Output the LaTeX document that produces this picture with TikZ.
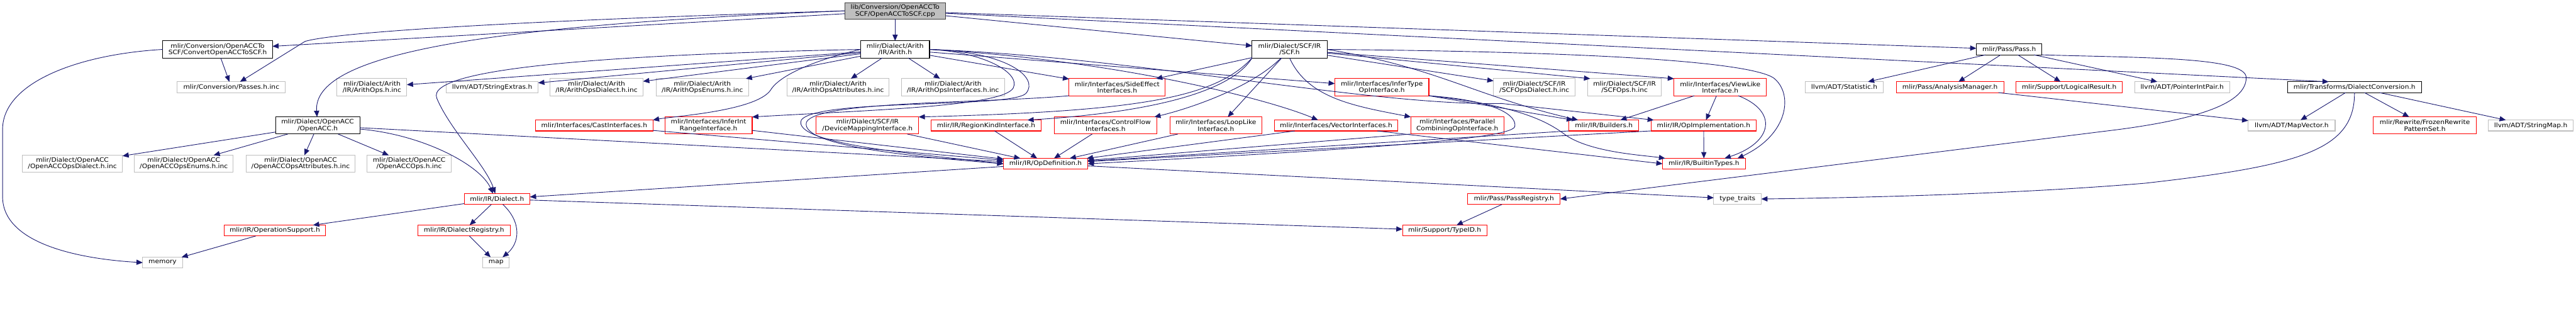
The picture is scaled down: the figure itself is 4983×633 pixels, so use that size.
\documentclass[tikz,border=0pt]{standalone}
\usepackage{fontspec}
\setmainfont{DejaVu Sans}[FakeStretch=1.09]
\usetikzlibrary{arrows.meta}
\definecolor{edgeblue}{HTML}{191970}
\definecolor{redline}{HTML}{FF0000}
\definecolor{grayline}{HTML}{BFBFBF}
\definecolor{rootfill}{HTML}{BFBFBF}
\definecolor{darkline}{HTML}{404040}
\newcommand\mknode[7]{\node[#1, minimum width={#5-#3}, minimum height={#6-#4}] (#2) at ({(#3+#5)/2},{(#4+#6)/2}) {#7};}
\begin{document}
\begin{tikzpicture}[x=1pt,y=-1pt,
  box/.style={draw, line width=1.3pt, inner sep=0pt, outer sep=0pt, align=center, font=\fontsize{11.9}{12.3}\selectfont, text=black},
  redbox/.style={box, draw=redline},
  graybox/.style={box, draw=grayline},
  blackbox/.style={box, draw=black},
  rootbox/.style={box, draw=darkline, fill=rootfill},
  dep/.style={draw=edgeblue, line width=1.1pt, -{Triangle[length=12pt,width=10pt]}}]
\useasboundingbox (0,0) rectangle (4983,633);
% row 1-2
\mknode{rootbox}{root}{1634}{5}{1829}{37}{lib/Conversion/OpenACCTo\\SCF/OpenACCToSCF.cpp}
\mknode{blackbox}{conv}{315}{79}{527}{112}{mlir/Conversion/OpenACCTo\\SCF/ConvertOpenACCToSCF.h}
\mknode{blackbox}{arith}{1665}{79}{1798}{112}{mlir/Dialect/Arith\\/IR/Arith.h}
\mknode{blackbox}{scf}{2422}{79}{2567}{112}{mlir/Dialect/SCF/IR\\/SCF.h}
\mknode{blackbox}{pass}{3823}{85}{3950}{106}{mlir/Pass/Pass.h}
% row 3
\mknode{graybox}{passesinc}{343}{158}{552}{179}{mlir/Conversion/Passes.h.inc}
\mknode{graybox}{arithopsinc}{652}{152}{787}{185}{mlir/Dialect/Arith\\/IR/ArithOps.h.inc}
\mknode{graybox}{strext}{863}{158}{1041}{179}{llvm/ADT/StringExtras.h}
\mknode{graybox}{arithdial}{1064}{152}{1244}{185}{mlir/Dialect/Arith\\/IR/ArithOpsDialect.h.inc}
\mknode{graybox}{arithenums}{1269}{152}{1448}{185}{mlir/Dialect/Arith\\/IR/ArithOpsEnums.h.inc}
\mknode{graybox}{arithattrs}{1522}{152}{1720}{185}{mlir/Dialect/Arith\\/IR/ArithOpsAttributes.h.inc}
\mknode{graybox}{arithifaces}{1744}{152}{1943}{185}{mlir/Dialect/Arith\\/IR/ArithOpsInterfaces.h.inc}
\mknode{redbox}{sideeff}{2068}{152}{2254}{185}{mlir/Interfaces/SideEffect\\Interfaces.h}
\mknode{redbox}{infertype}{2582}{152}{2764}{185}{mlir/Interfaces/InferType\\OpInterface.h}
\mknode{graybox}{scfdial}{2889}{152}{3047}{185}{mlir/Dialect/SCF/IR\\/SCFOpsDialect.h.inc}
\mknode{graybox}{scfops}{3071}{152}{3214}{185}{mlir/Dialect/SCF/IR\\/SCFOps.h.inc}
\mknode{redbox}{viewlike}{3238}{152}{3417}{185}{mlir/Interfaces/ViewLike\\Interface.h}
\mknode{graybox}{statistic}{3492}{158}{3643}{179}{llvm/ADT/Statistic.h}
\mknode{redbox}{analysis}{3668}{158}{3876}{179}{mlir/Pass/AnalysisManager.h}
\mknode{redbox}{logical}{3900}{158}{4105}{179}{mlir/Support/LogicalResult.h}
\mknode{graybox}{ptrint}{4129}{158}{4313}{179}{llvm/ADT/PointerIntPair.h}
\mknode{blackbox}{dconv}{4425}{158}{4684}{179}{mlir/Transforms/DialectConversion.h}
% row 4
\mknode{blackbox}{openacc}{533}{226}{696}{259}{mlir/Dialect/OpenACC\\/OpenACC.h}
\mknode{redbox}{cast}{1036}{232}{1263}{253}{mlir/Interfaces/CastInterfaces.h}
\mknode{redbox}{inferint}{1286}{226}{1455}{259}{mlir/Interfaces/InferInt\\RangeInterface.h}
\mknode{redbox}{devmap}{1579}{226}{1777}{259}{mlir/Dialect/SCF/IR\\/DeviceMappingInterface.h}
\mknode{redbox}{regkind}{1801}{232}{2014}{253}{mlir/IR/RegionKindInterface.h}
\mknode{redbox}{ctrlflow}{2039}{226}{2238}{259}{mlir/Interfaces/ControlFlow\\Interfaces.h}
\mknode{redbox}{looplike}{2263}{226}{2441}{259}{mlir/Interfaces/LoopLike\\Interface.h}
\mknode{redbox}{vector}{2465}{232}{2704}{253}{mlir/Interfaces/VectorInterfaces.h}
\mknode{redbox}{parallel}{2729}{226}{2909}{259}{mlir/Interfaces/Parallel\\CombiningOpInterface.h}
\mknode{redbox}{builders}{3035}{232}{3170}{253}{mlir/IR/Builders.h}
\mknode{redbox}{opimpl}{3194}{232}{3397}{253}{mlir/IR/OpImplementation.h}
\mknode{graybox}{mapvec}{4349}{232}{4517}{253}{llvm/ADT/MapVector.h}
\mknode{redbox}{frozen}{4591}{226}{4790}{259}{mlir/Rewrite/FrozenRewrite\\PatternSet.h}
\mknode{graybox}{strmap}{4813}{232}{4978}{253}{llvm/ADT/StringMap.h}
% row 5
\mknode{graybox}{accdial}{43}{300}{237}{333}{mlir/Dialect/OpenACC\\/OpenACCOpsDialect.h.inc}
\mknode{graybox}{accenums}{260}{300}{451}{333}{mlir/Dialect/OpenACC\\/OpenACCOpsEnums.h.inc}
\mknode{graybox}{accattrs}{476}{300}{687}{333}{mlir/Dialect/OpenACC\\/OpenACCOpsAttributes.h.inc}
\mknode{graybox}{accops}{710}{300}{873}{333}{mlir/Dialect/OpenACC\\/OpenACCOps.h.inc}
\mknode{redbox}{opdef}{1941}{306}{2104}{327}{mlir/IR/OpDefinition.h}
\mknode{redbox}{builtin}{3216}{306}{3376}{327}{mlir/IR/BuiltinTypes.h}
% row 6
\mknode{redbox}{dialect}{898}{374}{1025}{395}{mlir/IR/Dialect.h}
\mknode{redbox}{passreg}{2839}{374}{3018}{395}{mlir/Pass/PassRegistry.h}
\mknode{graybox}{typetraits}{3315}{374}{3407}{395}{type\_traits}
% row 7
\mknode{redbox}{opsupport}{434}{435}{629}{456}{mlir/IR/OperationSupport.h}
\mknode{redbox}{dialreg}{808}{435}{987}{456}{mlir/IR/DialectRegistry.h}
\mknode{redbox}{typeid}{2713}{435}{2876}{456}{mlir/Support/TypeID.h}
% row 8
\mknode{graybox}{memory}{276}{497}{353}{518}{memory}
\mknode{graybox}{map}{934}{497}{985}{518}{map}

% ---------- edges ----------
% root
\draw[dep] (root) -- (conv);
\draw[dep] (root.west) .. controls (1000,40) and (650,62) .. (590,80) -- (passesinc);
\draw[dep] (root.west) .. controls (900,50) and (605,110) .. (openacc);
\draw[dep] (root) -- (arith);
\draw[dep] (root) -- (scf);
\draw[dep] (root) -- (pass);
\draw[dep] (root) -- ([xshift=-50pt]dconv.north);
% conv
\draw[dep] (conv) -- (passesinc);
\draw[dep] (conv.west) .. controls (150,105) and (5,160) .. (5,250) -- (5,380) .. controls (5,470) and (150,500) .. (memory.west);
% arith
\draw[dep] (arith) -- (arithopsinc);
\draw[dep] (arith) -- (strext);
\draw[dep] (arith) -- (arithdial);
\draw[dep] (arith) -- (arithenums);
\draw[dep] (arith) -- (arithattrs);
\draw[dep] (arith) -- (arithifaces);
\draw[dep] (arith.west) .. controls (1200,105) and (820,130) .. (845,190) .. controls (870,250) and (940,320) .. (dialect);
\draw[dep] (arith.west) .. controls (1600,110) and (1510,140) .. (1490,175) .. controls (1460,215) and (1300,225) .. (cast.north east);
\draw[dep] (arith.east) .. controls (1900,100) and (1975,140) .. (1960,170) .. controls (1940,205) and (1700,212) .. (inferint.north east);
\draw[dep] (arith.east) .. controls (1950,100) and (2010,150) .. (1985,180) .. controls (1960,210) and (1580,190) .. (1550,232) .. controls (1530,280) and (1800,300) .. (opdef.west);
\draw[dep] (arith) -- (sideeff);
\draw[dep] (arith) -- (infertype);
\draw[dep] (arith.east) .. controls (2150,115) and (2450,190) .. ([xshift=-35pt]vector.north);
\draw[dep] (arith.east) .. controls (2200,110) and (2650,205) .. (2905,200) -- (opimpl);
% scf
\draw[dep] (scf) -- (sideeff);
\draw[dep] (scf.south west) .. controls (2350,190) and (2200,215) .. (devmap.north east);
\draw[dep] (scf.south west) .. controls (2370,195) and (2150,222) .. ([xshift=80pt]regkind.north);
\draw[dep] (scf) .. controls (2420,170) and (2300,210) .. ([xshift=-5pt]ctrlflow.north east);
\draw[dep] (scf) -- ([xshift=23pt]looplike.north);
\draw[dep] (scf.south) .. controls (2530,190) and (2620,205) .. (parallel.north west);
\draw[dep] (scf) -- (scfdial);
\draw[dep] (scf) -- ([xshift=5pt]scfops.north west);
\draw[dep] (scf) -- (viewlike.north west);
\draw[dep] (scf.east) .. controls (2780,130) and (2850,185) .. ([xshift=-50pt]builders.north);
\draw[dep] (scf.east) .. controls (3100,100) and (3380,120) .. (3430,150) .. controls (3470,180) and (3460,260) .. ([xshift=-15pt]builtin.north east);
% pass
\draw[dep] (pass) -- (statistic);
\draw[dep] (pass) -- (analysis);
\draw[dep] (pass) -- (logical);
\draw[dep] (pass) -- (ptrint);
\draw[dep] (pass.south east) .. controls (4150,112) and (4345,110) .. (4345,150) .. controls (4345,200) and (4250,230) .. (4100,250) -- (passreg.east);
% dialect conversion
\draw[dep] (dconv) -- (mapvec);
\draw[dep] (dconv) -- (frozen);
\draw[dep] (dconv) -- (strmap);
\draw[dep] (dconv.south) .. controls (4555,290) and (4450,320) .. (4150,354) .. controls (3900,375) and (3600,382) .. (typetraits.east);
\draw[dep] (analysis) -- (mapvec);
% openacc
\draw[dep] (openacc) -- (accdial);
\draw[dep] (openacc) -- (accenums);
\draw[dep] (openacc) -- (accattrs);
\draw[dep] (openacc) -- (accops);
\draw[dep] (openacc) .. controls (820,260) and (930,320) .. ([xshift=-8pt]dialect.north);
\draw[dep] (openacc) -- (opdef);
% interfaces -> OpDefinition etc.
\draw[dep] (cast) -- (opdef);
\draw[dep] (inferint) -- (opdef);
\draw[dep] (devmap) -- (opdef);
\draw[dep] (regkind) -- (opdef);
\draw[dep] (ctrlflow) -- (opdef);
\draw[dep] (looplike) -- (opdef);
\draw[dep] (vector) -- (opdef);
\draw[dep] ([xshift=-40pt]vector.south east) -- (builtin.west);
\draw[dep] (parallel.south west) -- (opdef);
\draw[dep] (sideeff.south west) .. controls (1900,200) and (1580,195) .. (1560,236) .. controls (1545,285) and (1800,305) .. (opdef.west);
\draw[dep] (infertype.south east) -- ([xshift=-60pt]builders.north);
\draw[dep] (infertype.south east) .. controls (2950,205) and (3000,240) .. (3030,262) .. controls (3080,295) and (3180,300) .. ([xshift=5pt]builtin.north west);
\draw[dep] (infertype.south east) .. controls (2900,195) and (2935,225) .. (2930,245) .. controls (2920,270) and (2600,290) .. (opdef.east);
\draw[dep] (builders.south west) -- (opdef);
\draw[dep] (opimpl.south west) -- (opdef);
\draw[dep] (opimpl) -- (builtin);
\draw[dep] (viewlike) -- (builders);
\draw[dep] (viewlike) -- (opimpl);
\draw[dep] ([xshift=35pt]viewlike.south) .. controls (3440,215) and (3430,275) .. ([xshift=-40pt]builtin.north east);
% lower layers
\draw[dep] (opdef) -- (dialect);
\draw[dep] (opdef) -- (typetraits);
\draw[dep] (dialect) -- (opsupport);
\draw[dep] (dialect) -- (dialreg);
\draw[dep] (dialect) .. controls (1010,430) and (1005,470) .. (map);
\draw[dep] (dialect) -- (typeid);
\draw[dep] (dialreg) -- (map);
\draw[dep] (opsupport) -- (memory);
\draw[dep] (passreg) -- (typeid);
\end{tikzpicture}
\end{document}
